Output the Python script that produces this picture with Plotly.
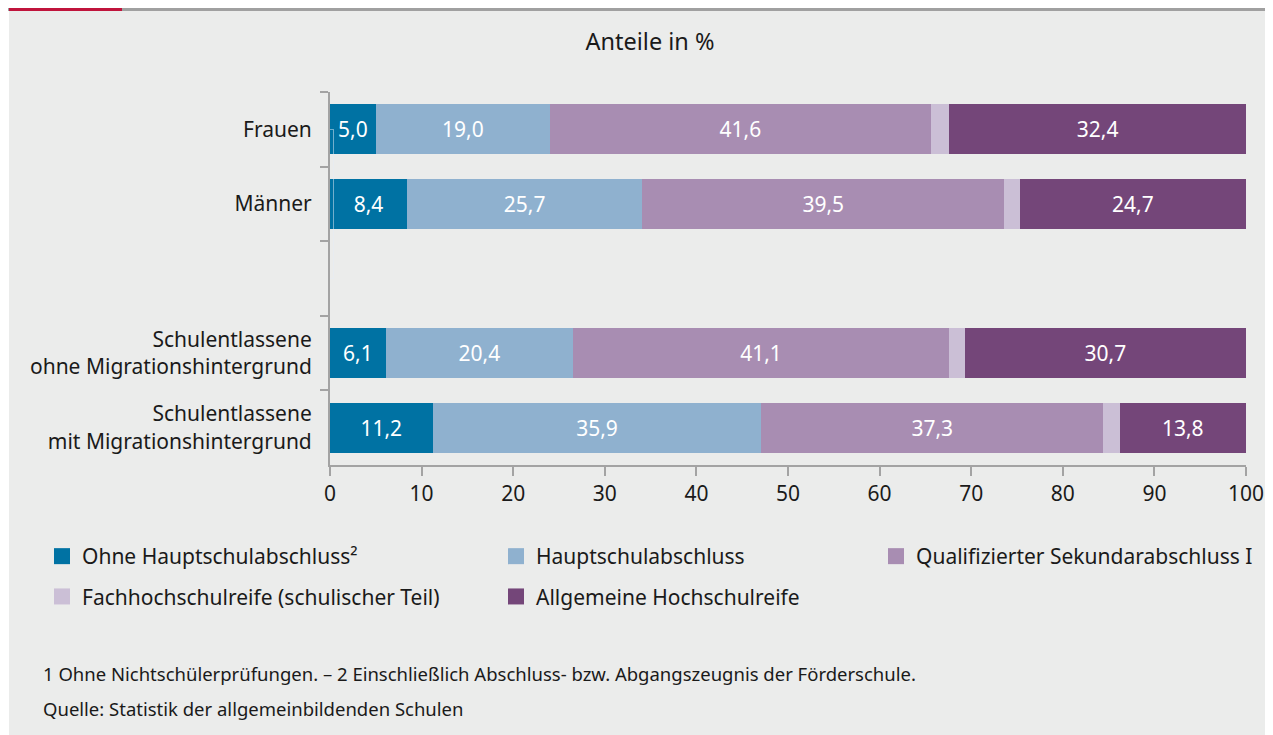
import plotly.graph_objects as go

categories = ["Frauen", "Männer", " ", "Schulentlassene<br>ohne Migrationshintergrund",
              "Schulentlassene<br>mit Migrationshintergrund"]
bar_categories = ["Frauen", "Männer", "Schulentlassene<br>ohne Migrationshintergrund",
                  "Schulentlassene<br>mit Migrationshintergrund"]

series_names = ["Ohne Hauptschulabschluss²", "Hauptschulabschluss",
                "Qualifizierter Sekundarabschluss I", "Fachhochschulreife (schulischer Teil)",
                "Allgemeine Hochschulreife"]
ohne_hs = [5.0, 8.4, 6.1, 11.2]
hauptschul = [19.0, 25.7, 20.4, 35.9]
qualifiziert = [41.6, 39.5, 41.1, 37.3]
fachhochschul = [2.0, 1.7, 1.7, 1.8]
allgemein = [32.4, 24.7, 30.7, 13.8]
series_values = [ohne_hs, hauptschul, qualifiziert, fachhochschul, allgemein]
colors = ["#0072a3", "#8fb1cf", "#a88db2", "#cbbfd6", "#744679"]
show_text = [True, True, True, False, True]
legend_ids = ["legend", "legend2", "legend3", "legend", "legend2"]

x_ticks = list(range(0, 101, 10))

FONT = "Noto Sans"
TXT = "#1a1a1a"
# page is rendered with an 8px body margin; figure coordinates = page coordinates - 8
OFF = 8
W, H = 1273 - 2 * OFF, 735 - OFF
L, T = 322, 84
R = W - (1246 - OFF)
B = H - (465 - OFF)
PW, PH = W - L - R, H - T - B

def px(x):
    return (x - OFF - L) / PW

def py(y):
    return (H - B - (y - OFF)) / PH

fig = go.Figure()
for i, (name, vals, col) in enumerate(zip(series_names, series_values, colors)):
    fig.add_trace(go.Bar(
        y=bar_categories, x=vals, name=name, orientation="h",
        marker=dict(color=col, line=dict(width=0)),
        text=vals if show_text[i] else None,
        texttemplate="%{x:.1f}" if show_text[i] else None,
        textposition="inside" if show_text[i] else "none",
        insidetextanchor="middle", textangle=0, constraintext="none",
        textfont=dict(color="white", size=21, family=FONT),
        showlegend=False, legendgroup=name,
        hoverinfo="skip",
    ))

# force empty category slot to exist
fig.add_trace(go.Bar(y=[" "], x=[0], showlegend=False, hoverinfo="skip",
                     marker=dict(color="rgba(0,0,0,0)")))

# legend entries (square swatches)
for i, (name, col) in enumerate(zip(series_names, colors)):
    fig.add_trace(go.Scatter(
        x=[None], y=[None], mode="markers", name=name,
        marker=dict(symbol="square", size=16, color=col, line=dict(width=0)),
        legend=legend_ids[i], legendgroup=name, showlegend=True, hoverinfo="skip",
    ))

common_legend = dict(orientation="v", font=dict(size=21, family=FONT, color=TXT),
                     bgcolor="rgba(0,0,0,0)", traceorder="grouped", tracegroupgap=10,
                     xanchor="left", yanchor="top", y=py(536))

fig.update_layout(
    width=W, height=H,
    margin=dict(l=L, r=R, t=T, b=B, autoexpand=False),
    paper_bgcolor="white", plot_bgcolor="#ebeceb",
    separators=",.",
    barmode="stack", bargap=0.33,
    font=dict(family=FONT, size=21, color=TXT),
    title=dict(text="Anteile in %", x=(650 - OFF) / W, xref="container", xanchor="center",
               y=1 - (42 - OFF) / H, yref="container", yanchor="middle",
               font=dict(size=23.5, family=FONT, color=TXT)),
    showlegend=True,
    legend=dict(common_legend, x=px(42)),
    legend2=dict(common_legend, x=px(496)),
    legend3=dict(common_legend, x=px(876)),
    xaxis=dict(range=[0, 100], tickvals=x_ticks, ticktext=[str(v) for v in x_ticks],
               showgrid=False, zeroline=False, showline=True, linecolor="#a3a3a3", linewidth=2,
               ticks="outside", ticklen=9, tickwidth=2, tickcolor="#a3a3a3",
               ticklabeloverflow="allow",
               tickfont=dict(size=21, family=FONT, color=TXT), fixedrange=True),
    yaxis=dict(type="category", categoryorder="array", categoryarray=categories,
               autorange="reversed",
               showgrid=False, zeroline=False, showline=True, linecolor="#a3a3a3", linewidth=2,
               ticks="outside", tickson="boundaries", ticklen=8, tickwidth=2, tickcolor="#a3a3a3",
               tickfont=dict(size=21, family=FONT, color=TXT), ticklabelstandoff=12),
)

# background panel and top rule
fig.add_shape(type="rect", xref="paper", yref="paper", x0=px(9), x1=px(1280), y0=py(740), y1=py(OFF),
              fillcolor="#ebeceb", line=dict(width=0), layer="below")
fig.add_shape(type="line", xref="paper", yref="paper", x0=px(OFF), x1=px(1280), y0=py(OFF + 1.5), y1=py(OFF + 1.5),
              line=dict(color="#a0a0a0", width=3))
fig.add_shape(type="line", xref="paper", yref="paper", x0=px(9), x1=px(122), y0=py(OFF + 1.5), y1=py(OFF + 1.5),
              line=dict(color="#c0143c", width=3))

fig.add_annotation(text="1 Ohne Nichtschülerprüfungen. – 2 Einschließlich Abschluss- bzw. Abgangszeugnis der Förderschule.",
                   xref="paper", yref="paper", x=px(41), y=py(673), xanchor="left", yanchor="middle",
                   showarrow=False, font=dict(size=18.5, family=FONT, color=TXT))
fig.add_annotation(text="Quelle: Statistik der allgemeinbildenden Schulen",
                   xref="paper", yref="paper", x=px(41), y=py(708), xanchor="left", yanchor="middle",
                   showarrow=False, font=dict(size=18.5, family=FONT, color=TXT))

fig.write_html("out.html")
